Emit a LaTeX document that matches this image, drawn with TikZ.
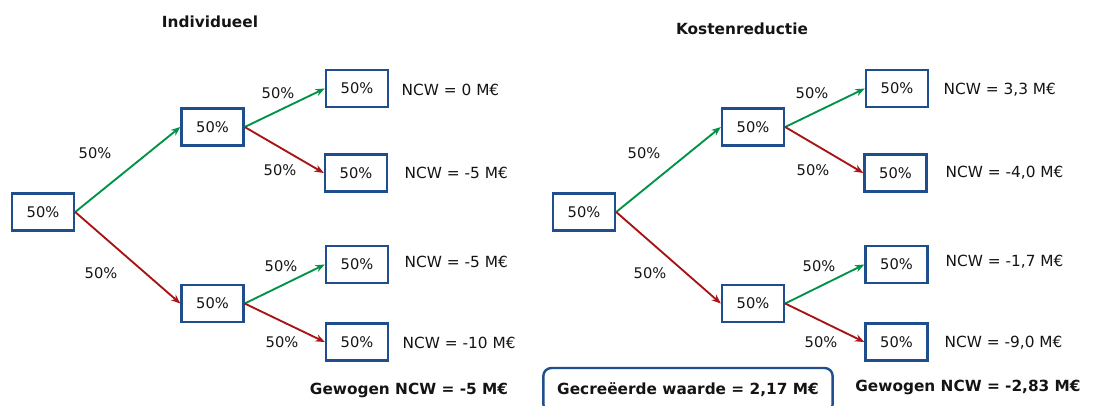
\documentclass[tikz,border=0pt]{standalone}
\usepackage{fontspec}
\setmainfont{DejaVu Sans}
\usetikzlibrary{arrows.meta}

\definecolor{boxblue}{RGB}{31,78,140}
\definecolor{upgreen}{RGB}{0,146,69}
\definecolor{downred}{RGB}{168,20,22}
\definecolor{inkgrey}{RGB}{20,20,20}

\begin{document}
\begin{tikzpicture}[x=0.75pt,y=-0.75pt,
    font=\fontsize{11}{13}\selectfont, text=inkgrey,
    kans/.style={draw=boxblue,line width=1.8pt,fill=white,
      minimum width=46.5pt,minimum height=27.75pt,inner sep=0pt},
    omhoog/.style={draw=upgreen,line width=1.4pt,
      -{Stealth[length=7pt,width=5.5pt]}},
    omlaag/.style={draw=downred,line width=1.4pt,
      -{Stealth[length=7pt,width=5.5pt]}},
    ncw/.style={anchor=west,font=\fontsize{11.5}{13}\selectfont},
    vet/.style={font=\fontsize{11.5}{13}\selectfont\bfseries}]
    \useasboundingbox (0,0) rectangle (1093,405);

    % Titles
    \node[vet] (iTitle) at (210,22) {Individueel};
    \node[vet] (kTitle) at (742,29) {Kostenreductie};

    % Tree Individueel: boxes
    \node[kans] (iRoot) at (43,212) {50\%};
    \node[kans] (iUp) at (212.5,127) {50\%};
    \node[kans] (iDown) at (212.5,303.5) {50\%};
    \node[kans] (iUU) at (357,88.5) {50\%};
    \node[kans] (iUD) at (356,173) {50\%};
    \node[kans] (iDU) at (357,264.5) {50\%};
    \node[kans] (iDD) at (357,342) {50\%};

    % Tree Individueel: branches
    \draw[omhoog] (iRoot.east) -- (iUp.west);
    \draw[omlaag] (iRoot.east) -- (iDown.west);
    \draw[omhoog] (iUp.east) -- (iUU.west);
    \draw[omlaag] (iUp.east) -- (iUD.west);
    \draw[omhoog] (iDown.east) -- (iDU.west);
    \draw[omlaag] (iDown.east) -- (iDD.west);

    % Tree Individueel: branch chances
    \node (iPUp) at (95,153) {50\%};
    \node (iPDown) at (101,273) {50\%};
    \node (iPUU) at (278,93) {50\%};
    \node (iPUD) at (280,170) {50\%};
    \node (iPDU) at (281,266) {50\%};
    \node (iPDD) at (282,342) {50\%};

    % Tree Individueel: outcomes
    \node[ncw] (iNcwUU) at (397,90) {NCW = 0 M€};
    \node[ncw] (iNcwUD) at (400,173) {NCW = -5 M€};
    \node[ncw] (iNcwDU) at (400,262) {NCW = -5 M€};
    \node[ncw] (iNcwDD) at (398,343) {NCW = -10 M€};
    \node[vet] (iTotal) at (409,390) {Gewogen NCW = -5 M€};

    % Tree Kostenreductie: boxes
    \node[kans] (kRoot) at (584,212) {50\%};
    \node[kans] (kUp) at (753,127) {50\%};
    \node[kans] (kDown) at (753,303.5) {50\%};
    \node[kans] (kUU) at (897,88.5) {50\%};
    \node[kans] (kUD) at (895.5,173) {50\%};
    \node[kans] (kDU) at (896.5,264.5) {50\%};
    \node[kans] (kDD) at (896.5,342) {50\%};

    % Tree Kostenreductie: branches
    \draw[omhoog] (kRoot.east) -- (kUp.west);
    \draw[omlaag] (kRoot.east) -- (kDown.west);
    \draw[omhoog] (kUp.east) -- (kUU.west);
    \draw[omlaag] (kUp.east) -- (kUD.west);
    \draw[omhoog] (kDown.east) -- (kDU.west);
    \draw[omlaag] (kDown.east) -- (kDD.west);

    % Tree Kostenreductie: branch chances
    \node (kPUp) at (644,153) {50\%};
    \node (kPDown) at (650,273) {50\%};
    \node (kPUU) at (812,93) {50\%};
    \node (kPUD) at (813,170) {50\%};
    \node (kPDU) at (819,266) {50\%};
    \node (kPDD) at (821,342) {50\%};

    % Tree Kostenreductie: outcomes
    \node[ncw] (kNcwUU) at (939,90) {NCW = 3,3 M€};
    \node[ncw] (kNcwUD) at (941,173) {NCW = -4,0 M€};
    \node[ncw] (kNcwDU) at (941,262) {NCW = -1,7 M€};
    \node[ncw] (kNcwDD) at (940,343) {NCW = -9,0 M€};
    \node[vet] (kTotal) at (968,387) {Gewogen NCW = -2,83 M€};

    % Created value
    \node[vet,draw=boxblue,line width=1.8pt,rounded corners=6pt,
      minimum width=217pt,minimum height=33pt] (waarde) at (688,390)
      {Gecreëerde waarde = 2,17 M€};
\end{tikzpicture}
\end{document}
